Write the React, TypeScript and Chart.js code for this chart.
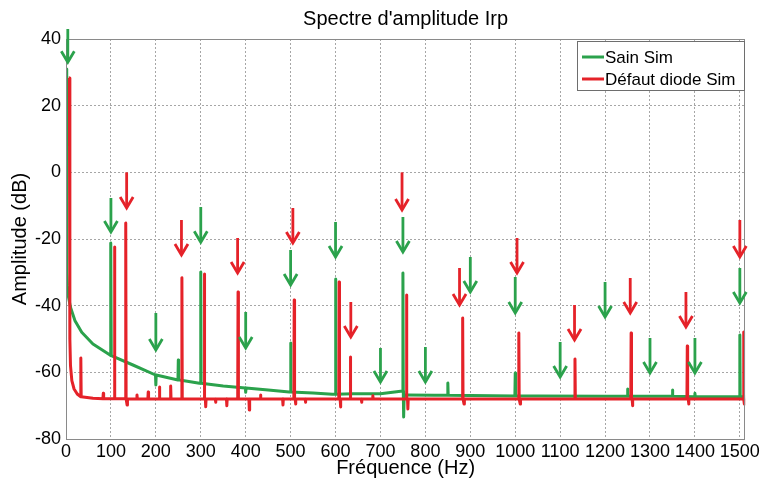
import React, { useEffect, useRef } from 'react';
import { Chart, registerables } from 'chart.js';

Chart.register(...registerables);

const FONT = "'Liberation Sans', Arial, Helvetica, sans-serif";
const GREEN = '#2ba24c';
const RED = '#e52229';
const GRID = '#a6a6a6';
const FRAME = '#8a8a8a';

const TITLE = "Spectre d'amplitude Irp";
const X_LABEL = 'Fréquence (Hz)';
const Y_LABEL = 'Amplitude (dB)';
const SERIES_NAMES = ['Sain Sim', 'Défaut diode Sim'];

const X_MIN = 0;
const X_MAX = 1512;
const Y_MIN = -80;
const Y_MAX = 40;
const X_TICKS = [0, 100, 200, 300, 400, 500, 600, 700, 800, 900, 1000, 1100, 1200, 1300, 1400, 1500];
const Y_TICKS = [-80, -60, -40, -20, 0, 20, 40];

// "Sain Sim" (green) – background curve
const sainBaseFreq = [0.2, 1.6, 3, 5, 10, 20, 35, 60, 98, 149, 201, 253, 297, 350, 401, 450, 497, 550, 593, 640, 700, 745, 760, 820, 1050, 1200, 1420, 1512];
const sainBaseDb = [31, -30, -34, -37, -40.5, -44.5, -48, -51.5, -54.8, -57.8, -60.8, -62.3, -63.3, -64.1, -64.7, -65.3, -65.9, -66.2, -66.6, -66.4, -66.4, -65.7, -66.8, -66.9, -67.1, -67.2, -67.3, -67.3];
// "Sain Sim" (green) – spectral lines
const sainSpikeFreq = [100, 200, 250, 300, 400, 500, 600, 750, 752, 850, 1000, 1250, 1350, 1400, 1500];
const sainSpikeBase = [-55, -60.8, -62.3, -63.3, -64.7, -65.9, -66.6, -65.7, -66.8, -66.9, -67.1, -67.2, -67.2, -67.3, -67.3];
const sainSpikePeak = [-21.2, -63.8, -56.3, -29.9, -66, -51.2, -32, -30.2, -73.4, -63.2, -60.2, -65, -65.3, -66.3, -48.8];

// "Défaut diode Sim" (red) – background curve
const defautBaseFreq = [6, 7.6, 8.6, 10, 13, 18, 25, 35, 60, 100, 1512];
const defautBaseDb = [28.3, 28.3, -50, -58, -62.5, -65, -66.5, -67.3, -67.8, -67.9, -68.1];
// "Défaut diode Sim" (red) – spectral lines
const defautSpikeFreq = [33, 83, 108, 133, 136, 158, 183, 208, 233, 258, 308, 311, 333, 358, 383, 408, 433, 483, 508, 511, 533, 608, 611, 633, 658, 683, 758, 761, 883, 886, 1008, 1011, 1133, 1258, 1261, 1383, 1386, 1508, 1510];
const defautSpikeBase = [-67.3, -67.9, -67.9, -67.9, -67.9, -68, -68, -68, -68, -68, -68, -68, -68, -68, -68, -68, -68, -68, -68, -68, -68, -68, -68, -68, -68, -68, -68, -68, -68, -68, -68, -68, -68, -68, -68, -68, -68, -68, -68];
const defautSpikePeak = [-55.7, -66.3, -22.4, -15.2, -69.8, -66.8, -65.9, -64.4, -64.1, -31.6, -30.5, -70.3, -69, -70, -35.9, -71.3, -66.8, -69.8, -38.3, -69.5, -69, -32.9, -70.4, -55.4, -69, -67, -36.8, -71, -43.7, -69.5, -48.2, -69.5, -56, -48.2, -70, -52.1, -69.5, -47.9, -69.5];

// Annotation arrows (frequency, start dB, tip dB)
const sainArrowFreq = [4, 100, 200, 300, 400, 500, 600, 700, 750, 800, 900, 1000, 1100, 1200, 1300, 1400, 1500];
const sainArrowFrom = [43, -7.7, -42.2, -10.4, -41.9, -23.3, -14.9, -52.7, -13.4, -52.4, -25.4, -31.4, -50.9, -32.9, -49.7, -49.7, -28.7];
const sainArrowTo = [33, -17.9, -53.3, -21, -52.7, -33.8, -25.4, -62.9, -23.9, -62.9, -35.9, -42.2, -61.4, -43.4, -60.2, -60.2, -39.2];

const defautArrowFreq = [135, 257, 382, 505, 634, 748, 876, 1004, 1132, 1256, 1380, 1500];
const defautArrowFrom = [0, -14.3, -19.7, -10.7, -38.9, 0, -28.7, -19.7, -39.8, -31.7, -35.9, -14.3];
const defautArrowTo = [-10.7, -24.8, -30.2, -21.2, -49.4, -11.3, -39.8, -30.2, -50.3, -42.2, -46.4, -25.4];

type Pt = { x: number; y: number };

function buildPoints(baseF: number[], baseDb: number[], spF: number[], spBase: number[], spPeak: number[]): Pt[] {
  const pts: Pt[] = baseF.map((x, i) => ({ x, y: baseDb[i] }));
  spF.forEach((f, i) => {
    pts.push({ x: f - 0.8, y: spBase[i] }, { x: f, y: spPeak[i] }, { x: f + 0.8, y: spBase[i] });
  });
  pts.sort((a, b) => a.x - b.x);
  return pts;
}

const overlayPlugin = {
  id: 'overlay',
  afterDraw(chart: any) {
    const { ctx, chartArea: ca, scales } = chart;
    const xs = scales.x;
    const ys = scales.y;
    ctx.save();
    // frame
    ctx.strokeStyle = FRAME;
    ctx.lineWidth = 1;
    ctx.setLineDash([]);
    ctx.strokeRect(Math.round(ca.left) + 0.5, Math.round(ca.top) + 0.5, Math.round(ca.right - ca.left) - 1, Math.round(ca.bottom - ca.top));

    // arrows
    const drawArrow = (f: number, from: number, to: number, color: string) => {
      const x = xs.getPixelForValue(f);
      const y0 = ys.getPixelForValue(from);
      const y1 = ys.getPixelForValue(to);
      ctx.strokeStyle = color;
      ctx.lineWidth = 2.8;
      ctx.lineCap = 'butt';
      ctx.lineJoin = 'miter';
      ctx.beginPath();
      ctx.moveTo(x, y0);
      ctx.lineTo(x, y1 - 1);
      ctx.stroke();
      ctx.beginPath();
      ctx.moveTo(x - 6.5, y1 - 11);
      ctx.lineTo(x, y1);
      ctx.lineTo(x + 6.5, y1 - 11);
      ctx.stroke();
    };
    sainArrowFreq.forEach((f, i) => drawArrow(f, sainArrowFrom[i], sainArrowTo[i], GREEN));
    defautArrowFreq.forEach((f, i) => drawArrow(f, defautArrowFrom[i], defautArrowTo[i], RED));

    // legend
    const lw = 167;
    const lh = 49;
    const lx = Math.round(ca.right) - lw - 1;
    const ly = Math.round(ca.top) + 2;
    ctx.fillStyle = '#ffffff';
    ctx.fillRect(lx, ly, lw, lh);
    ctx.strokeStyle = '#6e6e6e';
    ctx.lineWidth = 1;
    ctx.strokeRect(lx + 0.5, ly + 0.5, lw, lh);
    const colors = [GREEN, RED];
    SERIES_NAMES.forEach((name, i) => {
      const cy = ly + 16 + i * 22;
      ctx.strokeStyle = colors[i];
      ctx.lineWidth = 3;
      ctx.beginPath();
      ctx.moveTo(lx + 5, cy);
      ctx.lineTo(lx + 27, cy);
      ctx.stroke();
      ctx.fillStyle = '#000';
      ctx.font = `17px ${FONT}`;
      ctx.textBaseline = 'middle';
      ctx.textAlign = 'left';
      ctx.fillText(name, lx + 28, cy + 1);
    });
    ctx.restore();
  },
};

export default function App() {
  const ref = useRef<HTMLCanvasElement>(null);
  useEffect(() => {
    const sain = buildPoints(sainBaseFreq, sainBaseDb, sainSpikeFreq, sainSpikeBase, sainSpikePeak);
    const defaut = buildPoints(defautBaseFreq, defautBaseDb, defautSpikeFreq, defautSpikeBase, defautSpikePeak);
    const chart = new Chart(ref.current as HTMLCanvasElement, {
      type: 'line',
      data: {
        datasets: [
          {
            label: SERIES_NAMES[1],
            data: defaut,
            borderColor: RED,
            backgroundColor: RED,
            borderWidth: 3,
            pointRadius: 0,
            tension: 0,
            borderJoinStyle: 'round',
          },
          {
            label: SERIES_NAMES[0],
            data: sain,
            borderColor: GREEN,
            backgroundColor: GREEN,
            borderWidth: 3,
            pointRadius: 0,
            tension: 0,
            borderJoinStyle: 'round',
          },
        ],
      },
      options: {
        animation: false,
        responsive: true,
        maintainAspectRatio: false,
        events: [],
        layout: { padding: { top: 0, right: 14, bottom: 0, left: 0 } },
        plugins: {
          legend: { display: false },
          tooltip: { enabled: false },
          title: {
            display: true,
            text: TITLE,
            fullSize: false,
            color: '#000',
            font: { family: FONT, size: 20, weight: 'normal' },
            padding: { top: 7, bottom: 8 },
          },
        },
        scales: {
          x: {
            type: 'linear',
            min: X_MIN,
            max: X_MAX,
            afterBuildTicks: (s: any) => {
              s.ticks = X_TICKS.map((v) => ({ value: v }));
            },
            afterFit: (s: any) => {
              s.height = 45;
            },
            grid: { color: GRID, lineWidth: 1, drawTicks: false },
            border: { display: false, dash: [2, 2] },
            ticks: {
              color: '#000',
              font: { family: FONT, size: 18 },
              padding: 2,
              autoSkip: false,
              maxRotation: 0,
              callback: (v: any) => String(v),
            },
            title: {
              display: true,
              text: X_LABEL,
              color: '#000',
              font: { family: FONT, size: 20 },
              padding: { top: 0, bottom: 4 },
            },
          },
          y: {
            type: 'linear',
            min: Y_MIN,
            max: Y_MAX,
            afterBuildTicks: (s: any) => {
              s.ticks = Y_TICKS.map((v) => ({ value: v }));
            },
            afterFit: (s: any) => {
              s.width = 66;
            },
            grid: { color: GRID, lineWidth: 1, drawTicks: false },
            border: { display: false, dash: [2, 2] },
            ticks: {
              color: '#000',
              font: { family: FONT, size: 18 },
              padding: 5,
              callback: (v: any) => String(v),
            },
            title: {
              display: true,
              text: Y_LABEL,
              color: '#000',
              font: { family: FONT, size: 20 },
              padding: { top: 8, bottom: 0 },
            },
          },
        },
      },
      plugins: [overlayPlugin],
    } as any);
    return () => chart.destroy();
  }, []);
  return (
    <div style={{ position: 'fixed', left: 0, top: 0, width: 762, height: 484, background: '#fff' }}>
      <canvas ref={ref} />
    </div>
  );
}
